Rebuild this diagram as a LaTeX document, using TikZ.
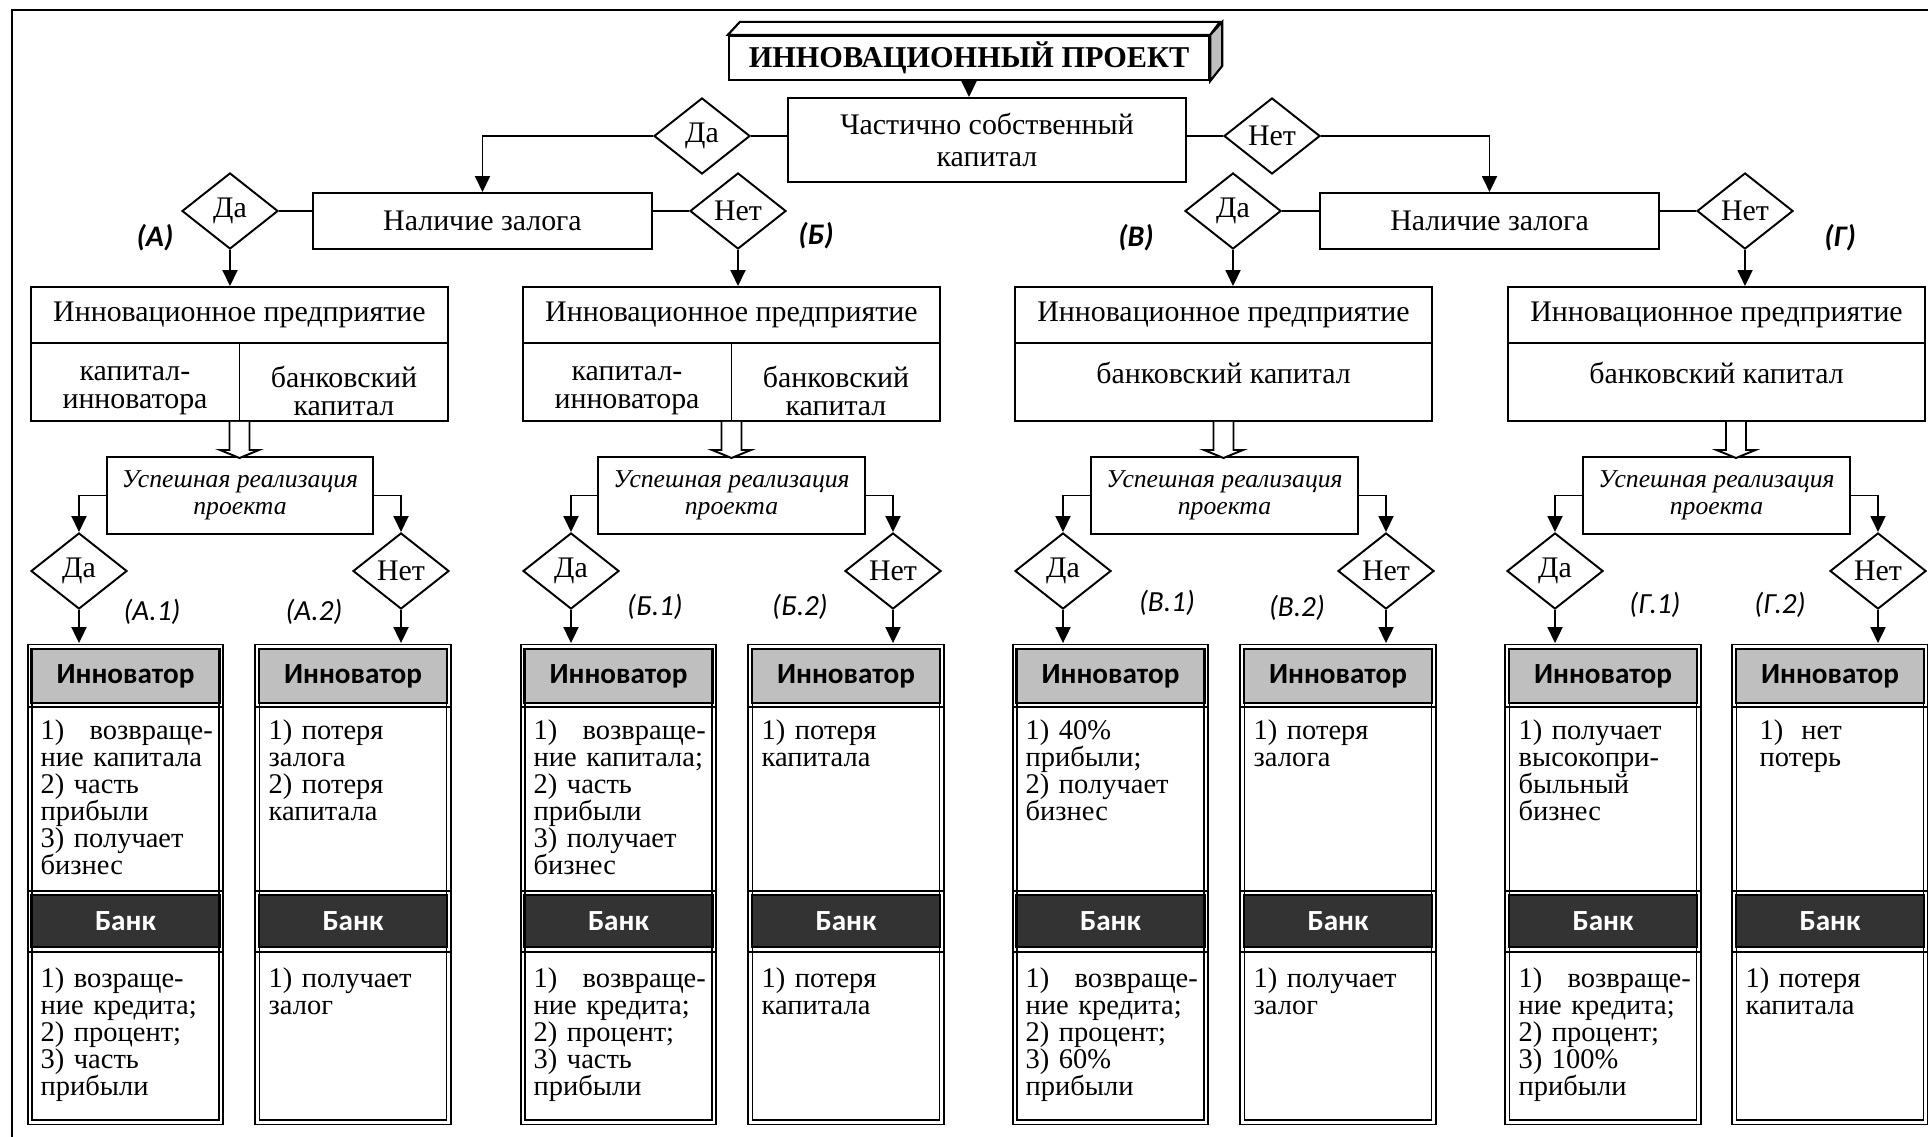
\documentclass[tikz,border=0pt]{standalone}
\usepackage{fontspec}
\setmainfont{Liberation Serif}
\setsansfont{Carlito}
\usetikzlibrary{arrows.meta,shapes.geometric}
\setlength{\parindent}{0pt}
\setlength{\lineskiplimit}{-3pt}
\tikzset{
  flowarrow/.style={-{Triangle[length=1.6mm, width=1.5mm]}, line width=0.55pt},
  plainline/.style={line width=0.55pt},
  hollowarrow/.style={line width=0.55pt, fill=white, line join=miter},
  titlebox/.style={draw, line width=0.6pt, fill=white, inner sep=0pt, minimum width=4.80cm, minimum height=0.44cm, font=\fontsize{8.6}{9}\selectfont\bfseries},
  entity/.style={draw, line width=0.55pt, inner sep=0pt, align=center, font=\fontsize{8.5}{9.1}\selectfont},
  cellbox/.style={draw, line width=0.55pt, inner sep=0pt, minimum width=4.17cm, minimum height=0.78cm},
  celltext/.style={inner sep=0pt, align=center, font=\fontsize{8.5}{8}\selectfont},
  decision/.style={draw, diamond, line width=0.55pt, inner sep=0pt, minimum width=0.96cm, minimum height=0.76cm, font=\fontsize{8.5}{9}\selectfont},
  stepbox/.style={draw, line width=0.55pt, inner sep=0pt, align=center, minimum width=2.66cm, minimum height=0.77cm, font=\fontsize{7.3}{7.7}\selectfont\itshape},
  caselabel/.style={inner sep=0pt, font=\fontsize{8.5}{9}\selectfont\sffamily\bfseries\itshape},
  sublabel/.style={inner sep=0pt, font=\fontsize{8.3}{9}\selectfont\sffamily\itshape},
  outframe/.style={draw, line width=0.45pt, double, double distance=0.8pt, minimum width=1.91cm, minimum height=4.75cm, inner sep=0pt},
  innhead/.style={draw, line width=0.7pt, fill=black!25, minimum width=1.88cm, minimum height=0.54cm, inner sep=0pt, font=\fontsize{8.3}{9}\selectfont\sffamily\bfseries},
  bankhead/.style={draw, line width=0.7pt, fill=black!80, text=white, minimum width=1.88cm, minimum height=0.52cm, inner sep=0pt, font=\fontsize{8.3}{9}\selectfont\sffamily\bfseries},
  sepline/.style={line width=0.55pt},
  bodytext/.style={anchor=north west, inner sep=0pt, text width=1.72cm, align=left, font=\fontsize{8.1}{7.7}\selectfont}
}
\newcommand{\jfill}{\hskip 0pt plus 1fill\relax}
\begin{document}
\begin{tikzpicture}[x=0.01cm, y=-0.01cm]
  \useasboundingbox (0,0) rectangle (1928,1137);
  \draw[line width=0.6pt] (12,10) rectangle (1990,1190);

  \node[titlebox] (title) at (969,58) {ИННОВАЦИОННЫЙ ПРОЕКТ};
  \draw[line width=0.6pt, fill=white] (title.north west) -- ++(12,-13) -- ++(480,0) -- (title.north east) -- cycle;
  \draw[line width=0.6pt, fill=black!25] (title.north east) -- ++(12,-13) -- ++(0,44) -- (title.south east) -- cycle;

  \node[entity, minimum width=3.98cm, minimum height=0.84cm] (chast) at (987,140) {Частично собственный\\капитал};
  \node[decision] (da0) at (702,136) {Да};
  \node[decision] (net0) at (1272,136) {Нет};
  \node[entity, minimum width=3.39cm, minimum height=0.56cm] (nalL) at (482.5,221) {Наличие залога};
  \node[entity, minimum width=3.39cm, minimum height=0.56cm] (nalR) at (1489.5,221) {Наличие залога};
  \draw[flowarrow] (title.south) -- (title.south |- chast.north);
  \draw[plainline] (da0.east) -- (da0.east -| chast.west);
  \draw[plainline] (chast.east |- net0.west) -- (net0.west);
  \draw[flowarrow] (da0.west) -| (nalL.north);
  \draw[flowarrow] (net0.east) -| (nalR.north);

  \node[decision] (daA) at (230,211) {Да};
  \node[decision] (netB) at (738,211) {Нет};
  \node[decision] (daV) at (1233,211) {Да};
  \node[decision] (netG) at (1745,211) {Нет};
  \draw[plainline] (daA.east) -- (daA.east -| nalL.west);
  \draw[plainline] (nalL.east |- netB.west) -- (netB.west);
  \draw[plainline] (daV.east) -- (daV.east -| nalR.west);
  \draw[plainline] (nalR.east |- netG.west) -- (netG.west);
  \node[caselabel] (labA) at (155,238) {(А)};
  \node[caselabel] (labB) at (816,236) {(Б)};
  \node[caselabel] (labV) at (1136,238) {(В)};
  \node[caselabel] (labG) at (1840,238) {(Г)};

  \node[entity, minimum width=4.17cm, minimum height=0.56cm] (innA) at (239.5,315) {Инновационное предприятие};
  \node[cellbox] (innAl) at (239.5,382) {};
  \draw[plainline] (innA.south) -- (innAl.south);
  \node[celltext] (capA) at (135,391) {капитал-\\инноватора};
  \node[celltext] (bcapA) at (344,391) {банковский\\капитал};
  \node[entity, minimum width=4.17cm, minimum height=0.56cm] (innB) at (731.5,315) {Инновационное предприятие};
  \node[cellbox] (innBl) at (731.5,382) {};
  \draw[plainline] (innB.south) -- (innBl.south);
  \node[celltext] (capB) at (627,391) {капитал-\\инноватора};
  \node[celltext] (bcapB) at (836,391) {банковский\\капитал};
  \node[entity, minimum width=4.17cm, minimum height=0.56cm] (innV) at (1223.5,315) {Инновационное предприятие};
  \node[cellbox] (innVl) at (1223.5,382) {};
  \node[celltext] (bcapV) at (1223.5,373) {банковский капитал};
  \node[entity, minimum width=4.17cm, minimum height=0.56cm] (innG) at (1716.5,315) {Инновационное предприятие};
  \node[cellbox] (innGl) at (1716.5,382) {};
  \node[celltext] (bcapG) at (1716.5,373) {банковский капитал};
  \draw[flowarrow] (daA.south) -- (daA.south |- innA.north);
  \draw[flowarrow] (netB.south) -- (netB.south |- innB.north);
  \draw[flowarrow] (daV.south) -- (daV.south |- innV.north);
  \draw[flowarrow] (netG.south) -- (netG.south |- innG.north);

  \node[stepbox] (usA) at (240,495.5) {Успешная реализация\\проекта};
  \node[stepbox] (usB) at (731.5,495.5) {Успешная реализация\\проекта};
  \node[stepbox] (usV) at (1224.5,495.5) {Успешная реализация\\проекта};
  \node[stepbox] (usG) at (1716.5,495.5) {Успешная реализация\\проекта};
  \draw[hollowarrow] (innAl.south) ++(-10,0) -- ++(0,28) -- ++(-9.5,0) -- ++(19.5,8) -- ++(19.5,-8) -- ++(-9.5,0) -- ++(0,-28);
  \draw[hollowarrow] (innBl.south) ++(-10,0) -- ++(0,28) -- ++(-9.5,0) -- ++(19.5,8) -- ++(19.5,-8) -- ++(-9.5,0) -- ++(0,-28);
  \draw[hollowarrow] (innVl.south) ++(-10,0) -- ++(0,28) -- ++(-9.5,0) -- ++(19.5,8) -- ++(19.5,-8) -- ++(-9.5,0) -- ++(0,-28);
  \draw[hollowarrow] (innGl.south) ++(9.5,0) -- ++(0,28) -- ++(-9.5,0) -- ++(19.5,8) -- ++(19.5,-8) -- ++(-9.5,0) -- ++(0,-28);

  \node[decision] (dA1) at (79,571) {Да};
  \node[decision] (nA2) at (401,571) {Нет};
  \node[decision] (dB1) at (571,571) {Да};
  \node[decision] (nB2) at (893,571) {Нет};
  \node[decision] (dV1) at (1063,571) {Да};
  \node[decision] (nV2) at (1386,571) {Нет};
  \node[decision] (dG1) at (1555,571) {Да};
  \node[decision] (nG2) at (1878,571) {Нет};
  \draw[flowarrow] (usA.west) -| (dA1.north);
  \draw[flowarrow] (usA.east) -| (nA2.north);
  \draw[flowarrow] (usB.west) -| (dB1.north);
  \draw[flowarrow] (usB.east) -| (nB2.north);
  \draw[flowarrow] (usV.west) -| (dV1.north);
  \draw[flowarrow] (usV.east) -| (nV2.north);
  \draw[flowarrow] (usG.west) -| (dG1.north);
  \draw[flowarrow] (usG.east) -| (nG2.north);
  \node[sublabel] (labA1) at (152,612) {(А.1)};
  \node[sublabel] (labA2) at (314,612) {(А.2)};
  \node[sublabel] (labB1) at (655,607) {(Б.1)};
  \node[sublabel] (labB2) at (800,607) {(Б.2)};
  \node[sublabel] (labV1) at (1167,603) {(В.1)};
  \node[sublabel] (labV2) at (1297,608) {(В.2)};
  \node[sublabel] (labG1) at (1655,605) {(Г.1)};
  \node[sublabel] (labG2) at (1780,605) {(Г.2)};

  \node[outframe] (oA1) at (125.5,884.5) {};
  \node[innhead] (hA1) at (125.5,676) {Инноватор};
  \node[bankhead] (bA1) at (125.5,921) {Банк};
  \draw[sepline] (27,707) -- (224,707) (27,891) -- (224,891) (27,952) -- (224,952);
  \node[bodytext] (tA1) at (40,719) {1)\jfill возвраще-\\ние капитала\\2) часть\\прибыли\\3) получает\\бизнес};
  \node[bodytext] (kA1) at (40,967) {1) возраще-\\ние кредита;\\2) процент;\\3) часть\\прибыли};

  \node[outframe] (oA2) at (353,884.5) {};
  \node[innhead] (hA2) at (353,676) {Инноватор};
  \node[bankhead] (bA2) at (353,921) {Банк};
  \draw[sepline] (255,707) -- (452,707) (255,891) -- (452,891) (255,952) -- (452,952);
  \node[bodytext] (tA2) at (268,719) {1) потеря\\залога\\2) потеря\\капитала};
  \node[bodytext] (kA2) at (268,967) {1) получает\\залог};

  \node[outframe] (oB1) at (618.5,884.5) {};
  \node[innhead] (hB1) at (618.5,676) {Инноватор};
  \node[bankhead] (bB1) at (618.5,921) {Банк};
  \draw[sepline] (520,707) -- (717,707) (520,891) -- (717,891) (520,952) -- (717,952);
  \node[bodytext] (tB1) at (533,719) {1)\jfill возвраще-\\ние капитала;\\2) часть\\прибыли\\3) получает\\бизнес};
  \node[bodytext] (kB1) at (533,967) {1)\jfill возвраще-\\ние кредита;\\2) процент;\\3) часть\\прибыли};

  \node[outframe] (oB2) at (846,884.5) {};
  \node[innhead] (hB2) at (846,676) {Инноватор};
  \node[bankhead] (bB2) at (846,921) {Банк};
  \draw[sepline] (748,707) -- (945,707) (748,891) -- (945,891) (748,952) -- (945,952);
  \node[bodytext] (tB2) at (761,719) {1) потеря\\капитала};
  \node[bodytext] (kB2) at (761,967) {1) потеря\\капитала};

  \node[outframe] (oV1) at (1110.5,884.5) {};
  \node[innhead] (hV1) at (1110.5,676) {Инноватор};
  \node[bankhead] (bV1) at (1110.5,921) {Банк};
  \draw[sepline] (1012,707) -- (1209,707) (1012,891) -- (1209,891) (1012,952) -- (1209,952);
  \node[bodytext] (tV1) at (1025,719) {1) 40\%\\прибыли;\\2) получает\\бизнес};
  \node[bodytext] (kV1) at (1025,967) {1)\jfill возвраще-\\ние кредита;\\2) процент;\\3) 60\%\\прибыли};

  \node[outframe] (oV2) at (1338,884.5) {};
  \node[innhead] (hV2) at (1338,676) {Инноватор};
  \node[bankhead] (bV2) at (1338,921) {Банк};
  \draw[sepline] (1240,707) -- (1437,707) (1240,891) -- (1437,891) (1240,952) -- (1437,952);
  \node[bodytext] (tV2) at (1253,719) {1) потеря\\залога};
  \node[bodytext] (kV2) at (1253,967) {1) получает\\залог};

  \node[outframe] (oG1) at (1603,884.5) {};
  \node[innhead] (hG1) at (1603,676) {Инноватор};
  \node[bankhead] (bG1) at (1603,921) {Банк};
  \draw[sepline] (1505,707) -- (1702,707) (1505,891) -- (1702,891) (1505,952) -- (1702,952);
  \node[bodytext] (tG1) at (1518,719) {1) получает\\высокопри-\\быльный\\бизнес};
  \node[bodytext] (kG1) at (1518,967) {1)\jfill возвраще-\\ние кредита;\\2) процент;\\3) 100\%\\прибыли};

  \node[outframe] (oG2) at (1830,884.5) {};
  \node[innhead] (hG2) at (1830,676) {Инноватор};
  \node[bankhead] (bG2) at (1830,921) {Банк};
  \draw[sepline] (1732,707) -- (1929,707) (1732,891) -- (1929,891) (1732,952) -- (1929,952);
  \node[bodytext] (tG2) at (1759,719) {1)\hspace{0.18cm}нет\\потерь};
  \node[bodytext] (kG2) at (1745,967) {1) потеря\\капитала};

  \draw[flowarrow, shorten >=0.85pt] (dA1.south) -- (dA1.south |- oA1.north);
  \draw[flowarrow, shorten >=0.85pt] (nA2.south) -- (nA2.south |- oA2.north);
  \draw[flowarrow, shorten >=0.85pt] (dB1.south) -- (dB1.south |- oB1.north);
  \draw[flowarrow, shorten >=0.85pt] (nB2.south) -- (nB2.south |- oB2.north);
  \draw[flowarrow, shorten >=0.85pt] (dV1.south) -- (dV1.south |- oV1.north);
  \draw[flowarrow, shorten >=0.85pt] (nV2.south) -- (nV2.south |- oV2.north);
  \draw[flowarrow, shorten >=0.85pt] (dG1.south) -- (dG1.south |- oG1.north);
  \draw[flowarrow, shorten >=0.85pt] (nG2.south) -- (nG2.south |- oG2.north);
\end{tikzpicture}
\end{document}
